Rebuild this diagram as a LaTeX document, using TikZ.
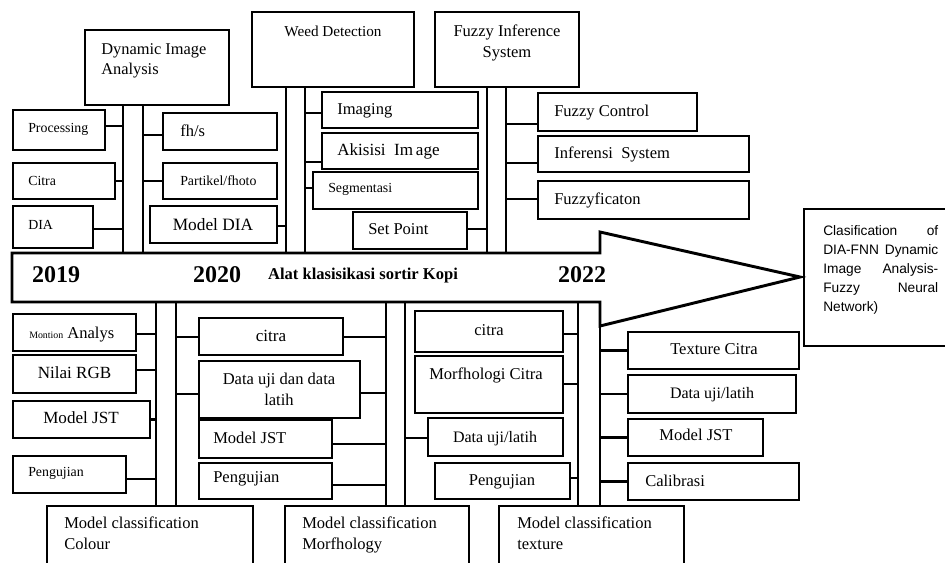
\documentclass[tikz,border=0pt]{standalone}
\usepackage{fontspec}
\setmainfont{Liberation Serif}
\newfontfamily\arialfont{Liberation Sans}
\usetikzlibrary{fit}
\newcommand\bx[6]{\node[#6,fit={(#2,#3) (#4,#5)}] (#1) {};}
\newcommand\cn[3]{\path (#1) ++(0,#2) coordinate (cnp); \draw[conn] (cnp) -- (cnp -| #3);}
\begin{document}
\begin{tikzpicture}[x=0.75pt,y=-0.75pt,
  thinbox/.style={draw,line width=0.9pt,inner sep=0pt},
  hbox/.style={draw,line width=2.2pt,inner sep=0pt},
  spine/.style={line width=2.2pt},
  conn/.style={line width=2.2pt},
  txt/.style={inner sep=0pt,text height=0.66em,text depth=0pt,font=\fontsize{12.4}{15}\selectfont},
  stxt/.style={txt,font=\fontsize{10.4}{12}\selectfont},
  mtxt/.style={inner sep=0pt,font=\fontsize{12.4}{15.75}\selectfont},
  year/.style={inner sep=0pt,text height=0.66em,text depth=0pt,font=\fontsize{18}{20}\selectfont\bfseries}
]
\useasboundingbox (0,0) rectangle (945,562);

% ---- main arrow ----
\coordinate (tip) at (800,277);
\draw[line width=2.2pt,line join=miter] (12,253) -- (600,253) -- (600,232) -- (tip) -- (600,326) -- (600,302) -- (12,302) -- cycle;
\node[year] (y2019) at (56,278) {2019};
\node[year] (y2020) at (217,278) {2020};
\node[txt,font=\fontsize{12.4}{15}\selectfont\bfseries] (alat) at (363,275) {Alat klasisikasi sortir Kopi};
\node[year] (y2022) at (582,278) {2022};

% ---- spine coordinates ----
\coordinate (dL) at (123,253); \coordinate (dR) at (143,253);
\coordinate (wL) at (286,253); \coordinate (wR) at (305,253);
\coordinate (fL) at (487,253); \coordinate (fR) at (506,253);
\coordinate (cL) at (156,302); \coordinate (cR) at (176,302);
\coordinate (mL) at (386,302); \coordinate (mR) at (405,302);
\coordinate (tL) at (578,302); \coordinate (tR) at (600,302);

% ---- top header boxes ----
\bx{dia}{85}{30}{229}{105}{hbox}
\bx{weed}{252}{12}{414}{87}{hbox}
\bx{fis}{435}{12}{579}{87}{hbox}
\node[mtxt,anchor=north west,align=left,font=\fontsize{12.3}{15}\selectfont] (diaT) at (101,43) {Dynamic Image\\Analysis};
\node[txt,font=\fontsize{11.4}{14}\selectfont] (weedT) at (333,32) {Weed Detection};
\node[mtxt,anchor=north,align=center] (fisT) at (507,25) {Fuzzy Inference\\System};

\draw[spine] (dia.south -| dL) -- (dL);
\draw[spine] (dia.south -| dR) -- (dR);
\draw[spine] (weed.south -| wL) -- (wL);
\draw[spine] (weed.south -| wR) -- (wR);
\draw[spine] (fis.south -| fL) -- (fL);
\draw[spine] (fis.south -| fR) -- (fR);

% ---- DIA branch ----
\bx{proc}{13}{110}{105}{150}{thinbox}
\bx{citraA}{13}{163}{115}{199}{thinbox}
\bx{diaB}{13}{206}{93}{248}{thinbox}
\bx{fhs}{163}{113}{277}{150}{thinbox}
\bx{part}{163}{163}{277}{199}{thinbox}
\bx{mdia}{150}{206}{277}{243}{thinbox}
\node[stxt,anchor=west] (procT) at (28,128) {Processing};
\node[stxt,anchor=west] (citraAT) at (28,181) {Citra};
\node[stxt,anchor=west] (diaBT) at (28,225) {DIA};
\node[txt,anchor=west] (fhsT) at (180,132) {fh/s};
\node[stxt,anchor=west] (partT) at (180,181) {Partikel/fhoto};
\node[txt,font=\fontsize{13}{15}\selectfont] (mdiaT) at (213,226) {Model DIA};
\cn{proc.east}{-4}{dL}
\cn{citraA.east}{0}{dL}
\cn{diaB.east}{2}{dL}
\cn{fhs.west}{3.5}{dR}
\cn{part.west}{0}{dR}
\cn{mdia.east}{1.5}{wL}

% ---- Weed branch ----
\bx{imag}{322}{92}{478}{128}{thinbox}
\bx{akis}{322}{133}{478}{169}{thinbox}
\bx{segm}{313}{172}{478}{209}{thinbox}
\bx{setp}{353}{212}{467}{249}{thinbox}
\node[txt,anchor=west] (imagT) at (337,110) {Imaging};
\node[txt,anchor=west,font=\fontsize{12.8}{15}\selectfont] (akisT) at (337,151) {Akisisi\ \ Im\,age};
\node[stxt,anchor=west] (segmT) at (328,188) {Segmentasi};
\node[txt,anchor=west] (setpT) at (368,230) {Set Point};
\cn{imag.west}{3}{wR}
\cn{akis.west}{11}{wR}
\cn{segm.west}{-2.5}{wR}
\cn{setp.east}{-1.5}{fL}

% ---- Fuzzy branch ----
\bx{fctl}{538}{93}{697}{131}{thinbox}
\bx{infs}{538}{136}{749}{172}{thinbox}
\bx{fzf}{538}{181}{749}{219}{thinbox}
\node[txt,anchor=west] (fctlT) at (554,112) {Fuzzy Control};
\node[txt,anchor=west] (infsT) at (554,154) {Inferensi\ \ System};
\node[txt,anchor=west] (fzfT) at (554,200) {Fuzzyficaton};
\cn{fctl.west}{12}{fR}
\cn{infs.west}{9}{fR}
\cn{fzf.west}{-1}{fR}

% ---- bottom header boxes ----
\bx{colour}{47}{506}{253}{580}{hbox}
\bx{morph}{285}{506}{469}{580}{hbox}
\bx{textr}{499}{506}{684}{580}{hbox}
\node[mtxt,anchor=north west,align=left] (colourT) at (64,517) {Model classification\\Colour};
\node[mtxt,anchor=north west,align=left] (morphT) at (302,517) {Model classification\\Morfhology};
\node[mtxt,anchor=north west,align=left] (textrT) at (517,517) {Model classification\\texture};

\draw[spine] (cL) -- (colour.north -| cL);
\draw[spine] (cR) -- (colour.north -| cR);
\draw[spine] (mL) -- (morph.north -| mL);
\draw[spine] (mR) -- (morph.north -| mR);
\draw[spine] (tL) -- (textr.north -| tL);
\draw[spine] (tR) -- (textr.north -| tR);

% ---- Colour branch ----
\bx{mont}{13}{314}{136}{351}{thinbox}
\bx{rgb}{13}{355}{136}{393}{thinbox}
\bx{jstA}{13}{401}{150}{438}{thinbox}
\bx{pengA}{13}{456}{126}{493}{thinbox}
\node[txt,anchor=west] (montT) at (29,334) {{\fontsize{7.4}{8}\selectfont Montion} Analys};
\node[txt,font=\fontsize{12.8}{15}\selectfont] (rgbT) at (74.5,374) {Nilai RGB};
\node[txt,font=\fontsize{12.8}{15}\selectfont] (jstAT) at (81,419) {Model JST};
\node[stxt,anchor=west] (pengAT) at (28,472) {Pengujian};
\cn{mont.east}{1.5}{cL}
\cn{rgb.east}{-4}{cL}
\cn{jstA.east}{0}{cL}
\cn{pengA.east}{4.5}{cL}

\bx{citB}{199}{318}{343}{355}{thinbox}
\bx{duji}{199}{361}{360}{418}{thinbox}
\bx{jstB}{199}{420}{332}{458}{thinbox}
\bx{pengB}{199}{463}{332}{499}{thinbox}
\node[txt,font=\fontsize{12.8}{15}\selectfont] (citBT) at (271,337) {citra};
\node[mtxt,anchor=north,align=center] (dujiT) at (279,372.5) {Data uji dan data\\latih};
\node[txt,anchor=west] (jstBT) at (213,439) {Model JST};
\node[txt,anchor=west] (pengBT) at (213,478) {Pengujian};
\cn{citB.west}{0.5}{cR}
\cn{citB.east}{0.5}{mL}
\cn{duji.west}{4.5}{cR}
\cn{duji.east}{3.5}{mL}
\cn{jstB.east}{5}{mL}
\cn{pengB.east}{4}{mL}

% ---- Morphology branch ----
\bx{citC}{415}{311}{563}{352}{thinbox}
\bx{morf}{415}{356}{563}{413}{thinbox}
\bx{dujC}{428}{418}{563}{456}{thinbox}
\bx{pengC}{435}{463}{570}{499}{thinbox}
\node[txt] (citCT) at (489,331) {citra};
\node[txt,anchor=west] (morfT) at (429,375) {Morfhologi Citra};
\node[txt,font=\fontsize{12}{15}\selectfont] (dujCT) at (495,438) {Data uji/latih};
\node[txt] (pengCT) at (502,481) {Pengujian};
\cn{citC.east}{2.5}{tL}
\cn{morf.east}{-0.5}{tL}
\cn{dujC.west}{1}{mR}
\cn{pengC.east}{-3}{tL}

% ---- Texture branch ----
\bx{texc}{628}{332}{799}{369}{thinbox}
\bx{dujD}{628}{375}{796}{413}{thinbox}
\bx{jstD}{628}{419}{763}{456}{thinbox}
\bx{calb}{628}{463}{799}{500}{thinbox}
\node[txt] (texcT) at (714,350) {Texture Citra};
\node[txt,font=\fontsize{12}{15}\selectfont] (dujDT) at (712,394) {Data uji/latih};
\node[txt] (jstDT) at (696,436) {Model JST};
\node[txt,anchor=west] (calbT) at (645,482) {Calibrasi};
\cn{texc.west}{0}{tR}
\cn{dujD.west}{0}{tR}
\cn{jstD.west}{0}{tR}
\cn{calb.west}{0}{tR}

% ---- result box ----
\bx{res}{804}{209}{956}{346}{hbox}
\node[anchor=north west,inner sep=0pt,text width=86.25pt,align=left,font=\arialfont\fontsize{10.3}{14.25}\selectfont] (resT) at (823,225) {Clasification\hfill of\\DIA-FNN\hfill Dynamic\\Image\hfill Analysis-\\Fuzzy\hfill Neural\\Network)};
\end{tikzpicture}
\end{document}
